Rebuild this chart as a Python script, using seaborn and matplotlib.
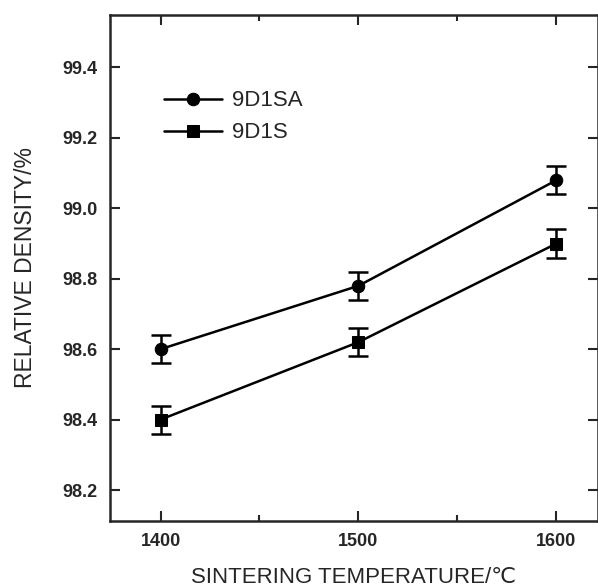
import matplotlib
matplotlib.use("Agg")
import matplotlib.pyplot as plt
from matplotlib.ticker import MultipleLocator
import numpy as np
import pandas as pd
import seaborn as sns

temperature = [1400, 1500, 1600]
density_9d1sa = [98.60, 98.78, 99.08]
density_9d1s = [98.40, 98.62, 98.90]
err_9d1sa = [0.04, 0.04, 0.04]
err_9d1s = [0.04, 0.04, 0.04]
series_names = ["9D1SA", "9D1S"]


def main():
    sns.set_style("ticks")
    plt.rcParams['font.family'] = ['Liberation Sans', 'DejaVu Sans']

    df = pd.DataFrame({
        "T": temperature * 2,
        "D": density_9d1sa + density_9d1s,
        "err": err_9d1sa + err_9d1s,
        "sample": [series_names[0]] * 3 + [series_names[1]] * 3,
    })

    fig = plt.figure(figsize=(5.98, 5.87), dpi=100)
    ax = fig.add_axes([0.184, 0.113, 0.816, 0.862])

    sns.lineplot(data=df, x="T", y="D", style="sample", markers={"9D1SA": "o", "9D1S": "s"},
                 dashes=False, color="black", linewidth=1.8, markersize=9, ax=ax,
                 markeredgecolor="black")
    for name in series_names:
        sub = df[df["sample"] == name]
        ax.errorbar(sub["T"], sub["D"], yerr=sub["err"], fmt="none", ecolor="black",
                    elinewidth=1.8, capsize=7, capthick=1.8)

    # legend
    handles, labels = ax.get_legend_handles_labels()
    ax.legend(handles, labels, loc="upper left", bbox_to_anchor=(0.07, 0.89), frameon=False,
              fontsize=16, handlelength=2.6, handletextpad=0.45, labelspacing=0.5)

    ax.set_xlim(1374.5, 1621)
    ax.set_ylim(98.113, 99.55)
    ax.xaxis.set_major_locator(MultipleLocator(100))
    ax.xaxis.set_minor_locator(MultipleLocator(50))
    ax.set_yticks(np.arange(98.2, 99.41, 0.2))
    ax.tick_params(which="both", direction="in", top=True, right=True, width=1.5)
    ax.tick_params(which="major", length=7, labelsize=13, pad=9)
    ax.tick_params(which="minor", length=4)
    for lbl in ax.get_xticklabels() + ax.get_yticklabels():
        lbl.set_fontweight("bold")
    for s in ax.spines.values():
        s.set_linewidth(1.8)

    ax.set_xlabel("SINTERING TEMPERATURE/℃", fontsize=16, labelpad=12)
    ax.set_ylabel("RELATIVE DENSITY/%", fontsize=16.5, labelpad=18)

    plt.savefig("out.png", dpi=100)


if __name__ == '__main__':
    main()
